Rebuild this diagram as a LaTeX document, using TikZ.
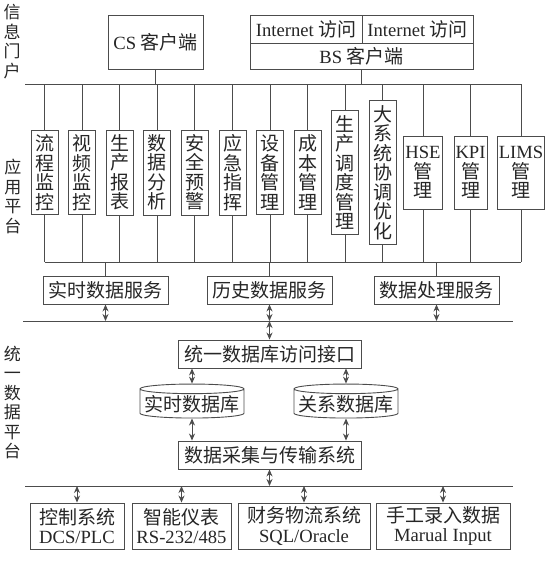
\documentclass[tikz,border=0pt]{standalone}
\usepackage{fontspec}
\setmainfont{Liberation Serif}
\newfontfamily\cjk{Noto Sans CJK SC}
\newfontfamily\latnfont{Liberation Serif}[Scale=0.98]
\newcommand\latn[1]{{\latnfont #1}}
\usepackage{tikz}
\usetikzlibrary{arrows.meta, shapes.geometric}
\usepackage{xcolor}

\begin{document}
\begin{tikzpicture}[x=1pt, y=-1pt,
    line/.style={draw=black!70, line width=0.9pt},
    link/.style={line, {Stealth[length=7pt,width=6pt]}-{Stealth[length=7pt,width=6pt]}},
    box/.style={line, text=black!85, inner sep=2pt, font=\fontsize{19}{19.5}\cjk},
    appbox/.style={box, align=center, inner xsep=4pt, inner ysep=4.5pt},
    dbcyl/.style={box, shape=cylinder, shape border rotate=90, aspect=0.1,
      inner sep=0.5pt, minimum width=104, minimum height=34},
    side/.style={align=center, text=black!85, inner sep=0pt, font=\fontsize{17}{19.5}\cjk}]
  \useasboundingbox (0,0) rectangle (553,565);

  % side labels
  \node[side] (lbl1) at (12,41.5) {信\\息\\门\\户};
  \node[side] (lbl2) at (13,196.5) {应\\用\\平\\台};
  \node[side] (lbl3) at (12.5,402.5) {统\\一\\数\\据\\平\\台};

  % portal
  \node[box, minimum width=95, minimum height=54] (cs) at (155.5,42) {\latn{CS} 客户端};
  \node[box, minimum width=112, minimum height=28] (inet1) at (306,29) {\latn{Internet} 访问};
  \node[box, minimum width=111, minimum height=28] (inet2) at (417.5,29) {\latn{Internet} 访问};
  \node[box, minimum width=223, minimum height=26] (bs) at (361.5,56) {\latn{BS} 客户端};

  % application boxes
  \foreach \i/\x/\t in {1/44.5/流\\程\\监\\控, 2/82.1/视\\频\\监\\控, 3/119.7/生\\产\\报\\表,
      4/157.3/数\\据\\分\\析, 5/194.9/安\\全\\预\\警, 6/232.5/应\\急\\指\\挥,
      7/270.1/设\\备\\管\\理, 8/307.7/成\\本\\管\\理, 9/345.3/生\\产\\调\\度\\管\\理,
      10/382.9/大\\系\\统\\协\\调\\优\\化} {
      \node[appbox] (app\i) at (\x,172.5) {\t};
    }
  \node[appbox, inner xsep=1.5pt, minimum height=73] (app11) at (423,172.5) {\latn{HSE}\\管\\理};
  \node[appbox, inner xsep=1.5pt, minimum height=73] (app12) at (470.5,172.5) {\latn{KPI}\\管\\理};
  \node[appbox, inner xsep=1.5pt, minimum height=73] (app13) at (521,172.5) {\latn{LIMS}\\管\\理};

  % buses around the applications
  \coordinate (tb) at (25,84);
  \coordinate (bb) at (0,262);
  \draw[line] (tb) -- (app13.north |- tb);
  \draw[line] (app1.south |- bb) -- (app13.south |- bb);
  \draw[line] (cs.south) -- (cs.south |- tb);
  \draw[line] (bs.south) -- (bs.south |- tb);
  \foreach \i in {1,...,13} {
      \draw[line] (app\i.north |- tb) -- (app\i.north);
      \draw[line] (app\i.south) -- (app\i.south |- bb);
    }

  % services
  \node[box, minimum width=125, minimum height=28] (rtsvc) at (105.5,290) {实时数据服务};
  \node[box, minimum width=125, minimum height=28] (hssvc) at (269.5,290) {历史数据服务};
  \node[box, minimum width=125, minimum height=28] (prsvc) at (436.5,290) {数据处理服务};
  \coordinate (db) at (23,321);
  \coordinate (dbe) at (513,321);
  \draw[line] (db) -- (dbe);
  \foreach \s in {rtsvc, hssvc, prsvc} {
      \draw[line] (\s.north |- bb) -- (\s.north);
      \draw[link] (\s.south) -- (\s.south |- db);
    }

  % unified data platform
  \node[box, minimum width=183, minimum height=28] (dbapi) at (269.5,354) {统一数据库访问接口};
  \node[dbcyl] (rtdb) at (192,404) {实时数据库};
  \node[dbcyl] (reldb) at (346,404) {关系数据库};
  \node[box, minimum width=183, minimum height=28] (daq) at (269.5,455) {数据采集与传输系统};
  \draw[link] (dbapi.north |- db) -- (dbapi.north);
  \draw[link] (rtdb.north |- dbapi.south) -- (rtdb.north);
  \draw[link] (reldb.north |- dbapi.south) -- (reldb.north);
  \draw[link] (rtdb.south) -- (rtdb.south |- daq.north);
  \draw[link] (reldb.south) -- (reldb.south |- daq.north);

  % sources
  \coordinate (sb) at (25,486);
  \coordinate (sbe) at (513,486);
  \draw[line] (sb) -- (sbe);
  \draw[link] (daq.south) -- (daq.south |- sb);
  \node[box, align=center, minimum width=94, minimum height=46] (src1) at (77,526) {控制系统\\\latn{DCS/PLC}};
  \node[box, align=center, minimum width=99, minimum height=46] (src2) at (181.5,526) {智能仪表\\\latn{RS-232/485}};
  \node[box, align=center, minimum width=132, minimum height=46] (src3) at (304,526) {财务物流系统\\\latn{SQL/Oracle}};
  \node[box, align=center, minimum width=134, minimum height=46] (src4) at (443,526) {手工录入数据\\\latn{Marual Input}};
  \foreach \i in {1,...,4} {
      \draw[link] (src\i.north |- sb) -- (src\i.north);
    }
\end{tikzpicture}
\end{document}
